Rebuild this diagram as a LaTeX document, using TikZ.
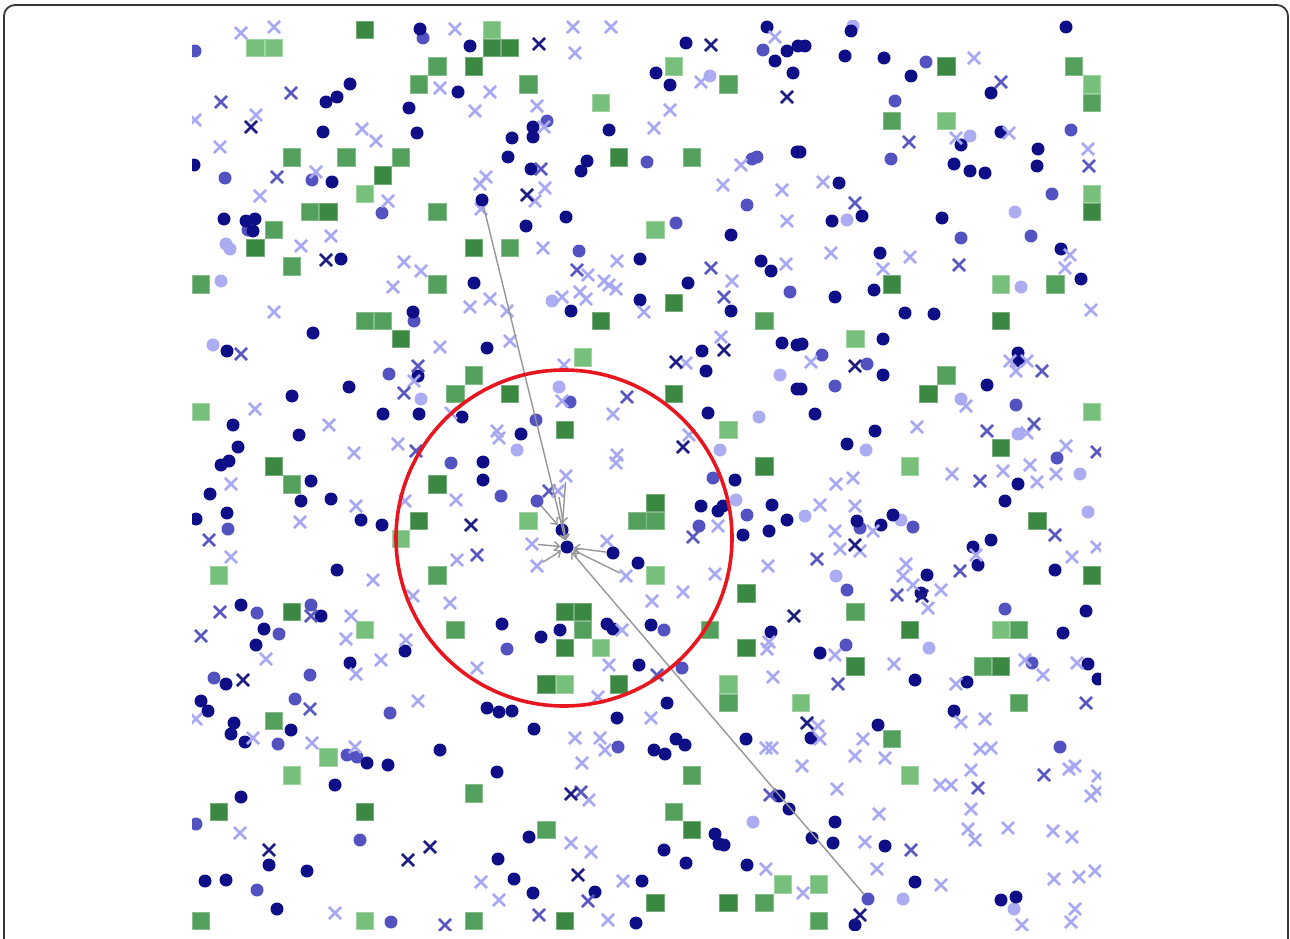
\documentclass[tikz,border=0pt]{standalone}
\usetikzlibrary{shapes.misc,arrows.meta}
\definecolor{dotD}{RGB}{14,14,135}
\definecolor{dotM}{RGB}{82,82,192}
\definecolor{dotL}{RGB}{172,172,242}
\definecolor{crD}{RGB}{28,28,130}
\definecolor{crM}{RGB}{88,88,190}
\definecolor{crL}{RGB}{168,168,242}
\definecolor{gD}{RGB}{58,136,66}
\definecolor{gM}{RGB}{82,160,92}
\definecolor{gL}{RGB}{118,192,124}
\definecolor{ringred}{RGB}{232,22,30}
\definecolor{linkgray}{RGB}{150,150,150}
\definecolor{framecol}{RGB}{55,55,55}
\tikzset{
  pt/.style={circle,inner sep=0pt,minimum size=13pt},
  dd/.style={pt,fill=dotD},
  md/.style={pt,fill=dotM},
  ld/.style={pt,fill=dotL},
  xx/.style={cross out,inner sep=0pt,minimum size=9.5pt,line width=2.7pt},
  dx/.style={xx,draw=crD},
  mx/.style={xx,draw=crM},
  lx/.style={xx,draw=crL},
  sq/.style={rectangle,inner sep=0pt,minimum size=17.4pt,line width=0.8pt},
  gd/.style={sq,fill=gD,draw=gD!70!white},
  gm/.style={sq,fill=gM,draw=gM!70!white},
  gl/.style={sq,fill=gL,draw=gL!70!white},
  link/.style={draw=linkgray,line width=1.4pt,-{Straight Barb[length=5pt,width=9pt]}},
  ring/.style={circle,draw=ringred,line width=3.6pt,inner sep=0pt,minimum size=336pt}
}
\begin{document}
\begin{tikzpicture}[x=1pt,y=-1pt]
\useasboundingbox (0,0) rectangle (1290,939);
\begin{scope}
\clip (0,0) rectangle (1290,939);
\draw[line width=1.8pt,rounded corners=11pt,draw=framecol] (4,5) rectangle (1288,990);
\end{scope}
\begin{scope}
\clip (192,21) rectangle (1101,930);
% green squares on a 50x50 grid
\foreach \c/\r [count=\i] in {9/0,16/1,17/1,15/2,10/8,7/10,3/12,15/12,23/7,26/15,22/16,41/2,38/14,44/16,49/10,11/17,4/24,13/25,12/27,5/32,17/20,20/22,26/20,31/24,25/26,30/31,20/32,21/32,40/20,44/23,46/27,49/30,1/43,9/43,20/34,19/36,23/36,30/34,27/44,25/48,29/48,20/49,39/33,36/35,44/35}
  \node[gd] (gd\i) at ({201+18.18*\c},{30+18.18*\r}) {};
\foreach \c/\r [count=\i] in {13/2,12/3,5/7,8/7,11/7,6/10,4/11,13/10,5/13,13/14,0/14,18/3,27/7,29/3,48/2,38/5,47/14,9/16,10/16,14/20,15/19,5/25,13/30,31/16,24/27,25/27,41/19,36/32,21/33,14/33,29/37,27/41,26/43,19/44,31/48,4/38,15/42,0/49,15/49,43/35,45/37,38/39,45/33,28/33,49/4,34/49,17/12}
  \node[gm] (gm\i) at ({201+18.18*\c},{30+18.18*\r}) {};
\foreach \c/\r [count=\i] in {3/1,4/1,16/0,26/2,9/9,22/4,25/11,41/5,44/14,49/3,49/9,21/18,29/22,18/27,25/30,11/28,1/30,0/21,36/17,49/21,39/24,22/34,20/36,29/36,33/37,7/40,5/41,9/49,9/33,32/47,44/33,39/41,34/47}
  \node[gl] (gl\i) at ({201+18.18*\c},{30+18.18*\r}) {};
% light dots
\foreach \x/\y [count=\i] in {710/76,552/301,970/136,847/220,1015/212,1021/287,853/26,213/345,421/399,559/387,759/417,517/450,720/450,736/500,780/375,961/399,1018/434,866/450,1080/474,805/516,901/520,1088/512,836/576,226/244,230/249,221/281,753/822,929/648,903/899,1014/909}
  \node[ld] (ld\i) at (\x,\y) {};
% medium dots
\foreach \x/\y [count=\i] in {195/51,423/38,225/178,312/180,382/213,248/230,547/121,647/162,752/159,757/157,747/205,676/223,579/251,790/292,763/50,926/62,895/101,891/159,1071/130,1052/194,961/238,1031/236,414/321,389/374,451/463,228/529,257/613,311/605,570/402,536/420,713/478,501/496,747/515,699/526,822/355,867/364,835/386,1016/405,1057/458,860/528,913/527,847/590,1005/609,279/634,214/678,310/675,295/699,390/713,278/744,347/755,357/757,360/840,196/824,257/890,391/922,507/649,664/630,682/668,618/747,846/645,1032/663,1060/747}
  \node[md] (md\i) at (\x,\y) {};
% dark dots
\foreach \x/\y [count=\i] in {420/29,470/46,458/92,350/84,337/97,326/102,409/108,323/132,417/133,332/182,224/219,246/221,255/219,253/231,341/259,474/283,413/312,194/165,
686/43,767/27,775/61,787/51,798/46,656/73,670/85,793/73,533/127,533/137,512/138,609/130,508/157,531/169,587/161,581/171,797/152,566/217,526/226,731/235,640/259,761/261,771/271,688/283,640/300,571/311,731/311,
851/31,805/46,845/56,884/58,911/76,991/93,1066/27,961/145,1038/149,1037/166,800/152,954/164,970/171,985/173,839/183,832/221,862/216,942/218,880/253,1061/249,1081/279,874/290,835/297,905/313,934/314,1001/132,
313/333,227/351,487/348,418/376,349/387,292/396,383/414,419/414,462/417,233/425,299/435,238/447,221/465,229/461,311/481,483/462,483/480,210/494,301/501,331/499,227/513,196/519,361/520,382/525,337/570,241/605,321/616,
702/351,706/371,782/343,797/345,797/389,708/413,521/434,735/480,701/506,718/511,723/506,772/505,787/520,769/531,743/535,638/563,502/624,607/624,613/629,651/625,
883/339,802/344,883/375,801/389,1018/353,1019/361,987/385,815/414,875/431,847/444,1018/484,1005/501,857/521,881/525,893/515,991/540,973/547,978/565,1055/570,927/575,921/593,1086/611,
264/629,256/645,405/651,350/663,226/684,201/701,208/711,487/708,291/730,234/723,231/734,245/742,367/763,388/765,440/750,335/785,241/797,269/865,307/871,205/881,226/880,277/909,
541/637,560/630,639/665,771/632,499/712,512/711,667/703,617/718,534/729,676/739,685/745,654/750,665/754,746/739,497/772,779/796,789/809,529/837,715/834,719/844,724/845,664/850,686/863,747/865,498/859,514/879,642/881,533/893,595/892,636/923,
1063/633,820/653,915/680,1088/664,1098/679,967/682,954/711,878/725,811/738,835/822,812/838,833/843,885/846,915/882,1001/900,1016/897,855/925}
  \node[dd] (dd\i) at (\x,\y) {};
% light crosses
\foreach \x/\y [count=\i] in {241/33,274/27,455/29,440/88,490/92,475/111,195/120,256/115,362/129,376/141,220/147,316/172,388/201,480/184,486/177,481/209,260/196,301/246,331/236,404/262,421/271,393/287,274/312,470/307,490/299,
573/27,611/27,575/53,775/37,701/82,537/106,670/110,654/128,544/127,741/165,545/188,535/201,723/185,782/190,787/221,543/248,588/275,617/261,786/264,604/281,616/289,609/285,580/292,586/299,562/297,644/312,507/311,732/281,
974/58,956/138,1009/133,1088/149,823/182,831/253,910/257,883/269,1070/255,1065/268,1091/310,
440/347,414/381,255/409,451/413,329/425,398/444,354/453,231/484,356/506,456/500,405/501,300/522,231/557,457/560,373/580,351/616,413/596,450/603,
510/341,564/365,721/337,686/363,562/401,613/414,497/431,499/438,689/435,617/455,616/463,607/541,715/574,768/566,683/592,652/601,718/526,
811/362,1010/361,1027/361,1016/371,966/406,917/427,1027/433,1066/446,1003/471,1030/465,1037/482,1056/474,952/474,836/484,853/478,820/505,855/506,873/531,835/531,860/551,840/549,976/555,1097/547,1072/557,906/564,903/576,913/585,941/590,928/608,
266/659,346/639,406/640,381/660,356/674,477/668,196/719,418/701,253/738,312/743,355/747,240/833,481/882,335/913,
622/630,769/642,767/649,609/665,773/677,598/697,651/718,575/738,600/738,605/750,766/748,772/748,582/763,589/800,571/843,591/852,766/869,623/881,499/900,608/920,
835/655,894/664,1025/660,1043/675,1077/663,956/684,961/722,985/719,818/726,820/739,863/739,980/749,991/748,855/756,885/758,802/766,940/785,951/785,971/770,1069/769,1075/766,1098/776,1091/796,1097/791,837/789,879/814,971/809,968/829,975/840,1008/828,1053/831,1072/837,865/842,877/869,941/885,1054/879,1079/877,1095/871,803/893,1075/909,1071/922,1022/925}
  \node[lx] (lx\i) at (\x,\y) {};
% medium crosses
\foreach \x/\y [count=\i] in {221/102,291/93,277/177,541/169,577/270,711/268,724/297,1001/82,909/142,855/203,959/265,1089/166,241/354,418/366,404/393,416/451,209/540,477/555,311/616,220/612,627/397,549/491,693/537,1042/371,987/431,1034/424,980/481,1055/535,817/559,960/571,897/595,201/636,310/709,657/675,581/792,770/795,588/901,539/915,838/684,1086/703,978/788,1044/775,911/850,1097/452,445/925}
  \node[mx] (mx\i) at (\x,\y) {};
% dark crosses
\foreach \x/\y [count=\i] in {251/127,326/260,539/44,711/45,787/97,527/195,724/350,676/362,683/447,471/525,855/366,855/545,243/680,269/850,408/860,430/847,578/875,571/794,807/723,860/915,794/616,922/596}
  \node[dx] (dx\i) at (\x,\y) {};
% query point and its neighbours
\node[dd] (n1) at (482,200) {};
\node[md] (n2) at (868,899) {};
\node[md] (n3) at (537,501) {};
\node[dd] (n4) at (562,530) {};
\node[lx] (n5) at (566,476) {};
\node[lx] (n6) at (532,544) {};
\node[lx] (n7) at (537,566) {};
\node[dd] (n8) at (613,553) {};
\node[lx] (n9) at (626,576) {};
\node[lx] (n10) at (558,491) {};
\node[dd] (q) at (567,547) {};
\draw[link] (n1) -- (q);
\draw[link] (n2) -- (q);
\draw[link] (n3) -- (n4);
\draw[link] (n5) -- (n4);
\draw[link] (n10) -- (q);
\draw[link] (n6) -- (q);
\draw[link] (n7) -- (q);
\draw[link] (n8) -- (q);
\draw[link] (n9) -- (q);
\end{scope}
\node[ring] (ring) at (564,538) {};
\end{tikzpicture}
\end{document}
